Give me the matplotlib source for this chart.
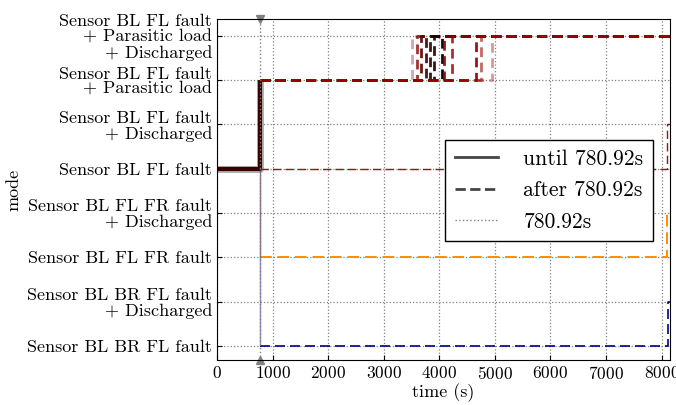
import numpy as np
import matplotlib
matplotlib.use("Agg")
import matplotlib.pyplot as plt
from matplotlib.lines import Line2D

plt.rcParams['font.family'] = ['cmr10', 'DejaVu Serif']
plt.rcParams['axes.formatter.use_mathtext'] = True
plt.rcParams['mathtext.fontset'] = 'cm'

modes = ["Sensor BL BR FL fault",
         "Sensor BL BR FL fault\n+ Discharged",
         "Sensor BL FL FR fault",
         "Sensor BL FL FR fault\n+ Discharged",
         "Sensor BL FL fault",
         "Sensor BL FL fault\n+ Discharged",
         "Sensor BL FL fault\n+ Parasitic load",
         "Sensor BL FL fault\n+ Parasitic load\n+ Discharged"]

t_cut = 780.92
t_end = 8150

# observed part (until t_cut)
obs_t = [0, t_cut, t_cut]
obs_m = [4, 4, 6]

# predicted trajectories jumping from mode 6 to mode 7
jump_times = [3505, 3595, 3667, 3757, 3829, 3901, 4045, 4081, 4225, 4657, 4747, 4945]
jump_colors = ['#8b0000', '#8b0000', '#5a0000', '#3a0000', '#2a0000', '#1a0000',
               '#000000', '#8b0000', '#8b0000', '#8b0000', '#a00000', '#a00000']
jump_alpha = [0.35, 0.8, 0.9, 0.9, 0.9, 0.9, 0.95, 0.9, 0.8, 0.9, 0.6, 0.4]

# other predicted trajectories: (start mode, end mode, switch time, color)
other_start = [4, 2, 0]
other_end = [5, 3, 1]
other_switch = [8095, 8100, 8110]
other_colors = ['#8b1a1a', '#ff8c00', '#00008b']
other_lw = [1.0, 1.4, 1.2]

fig = plt.figure(figsize=(6.76, 4.05), dpi=100)
ax = fig.add_axes([0.321, 0.111, 0.67, 0.842])

# observed
ax.plot(obs_t, obs_m, color='gray', lw=5, alpha=0.6, solid_capstyle='butt')
ax.plot(obs_t, obs_m, color='#3a0000', lw=3, solid_capstyle='butt')

# predictions
for t, c, a in zip(jump_times, jump_colors, jump_alpha):
    ax.plot([t_cut, t, t, t_end], [6, 6, 7, 7], color=c, alpha=a, lw=2,
            ls=(0, (3.5, 2)))
for s, e, t, c, w in zip(other_start, other_end, other_switch, other_colors, other_lw):
    ax.plot([t_cut, t_cut], [4, s], color=c, alpha=0.45, lw=1)
    ax.plot([t_cut, t, t, t_end], [s, s, e, e], color=c, lw=w,
            ls=(0, (6, 3)))

# cut marker
ax.axvline(t_cut, color='gray', ls=':', lw=1)
ax.plot([t_cut], [7.38], marker='v', color='gray', ms=6, clip_on=False)
ax.plot([t_cut], [-0.32], marker='^', color='gray', ms=6, clip_on=False)

ax.set_xlim(0, t_end)
ax.set_ylim(-0.32, 7.38)
ax.set_yticks(range(len(modes)))
ax.set_yticklabels(modes, fontsize=13, linespacing=1.0)
ax.set_xticks(np.arange(0, 8001, 1000))
ax.tick_params(axis='x', labelsize=12.5, direction='in')
ax.tick_params(axis='y', direction='in')
ax.grid(True, ls=':', color='gray', lw=0.9)
ax.set_xlabel('time (s)', fontsize=13, labelpad=1)
ax.set_ylabel('mode', fontsize=13, labelpad=4)

handles = [Line2D([], [], color='#444444', lw=2),
           Line2D([], [], color='#444444', lw=2, ls='--'),
           Line2D([], [], color='gray', lw=1, ls=':')]
leg = ax.legend(handles, ['until 780.92s', 'after 780.92s', '780.92s'],
                loc='center right', bbox_to_anchor=(0.987, 0.497), fontsize=15.5,
                fancybox=False, framealpha=1, edgecolor='black', handlelength=2.0,
                labelspacing=0.55, handletextpad=1.2, borderpad=0.45)
leg.get_frame().set_linewidth(1)

fig.savefig('out.png', dpi=100)
